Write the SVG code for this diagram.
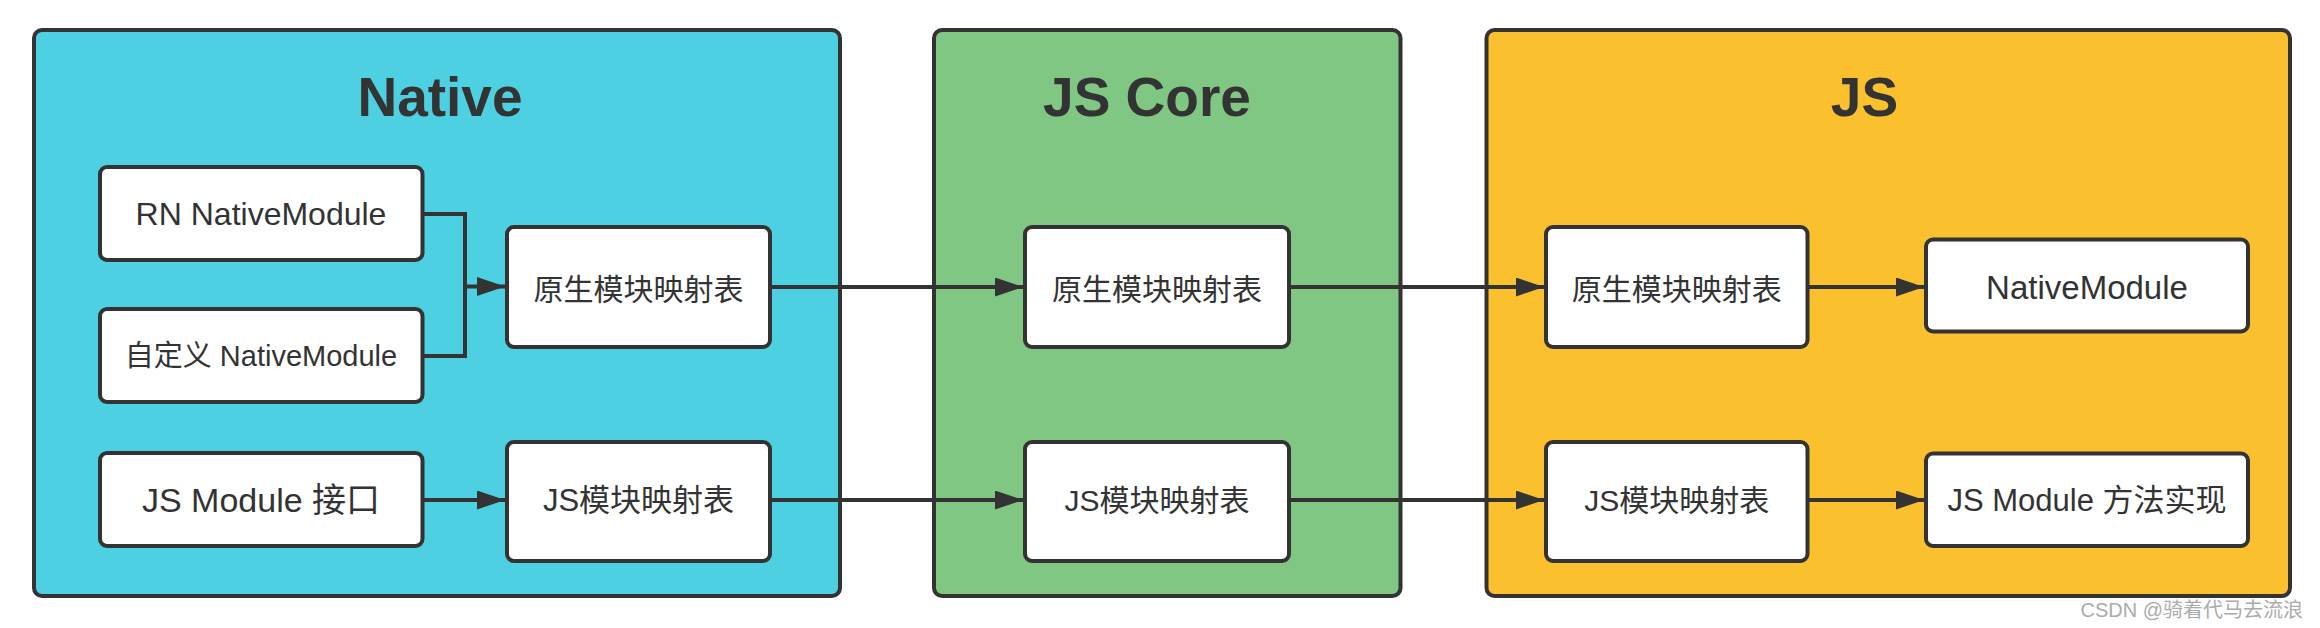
<svg xmlns="http://www.w3.org/2000/svg" width="2320" height="628" viewBox="0 0 2320 628">
  <style>
    .container { stroke: #333333; stroke-width: 4; }
    .node { fill: #ffffff; stroke: #333333; stroke-width: 4; }
    .title { font-family: "Liberation Sans", Arial, sans-serif; font-weight: bold; font-size: 55px; fill: #333333; text-anchor: middle; }
    .label { font-family: "Liberation Sans", "Noto Sans CJK SC", sans-serif; fill: #333333; text-anchor: middle; dominant-baseline: central; }
    .cjk { font-family: "Noto Sans CJK SC", "Liberation Sans", sans-serif; }
    .edge { fill: none; stroke: #333333; stroke-width: 4; }
    .wm { font-family: "Liberation Sans", "Noto Sans CJK SC", sans-serif; font-size: 20px; fill: #ababab; text-anchor: end; }
  </style>
  <defs>
    <marker id="arrow" markerUnits="userSpaceOnUse" markerWidth="28" markerHeight="20" refX="28" refY="9.5" orient="auto">
      <path d="M0,0 L28,9.5 L0,19 Z" fill="#333333"/>
    </marker>
  </defs>
  <rect width="2320" height="628" fill="#ffffff"/>

  <g id="native">
    <rect class="container" x="34" y="30" width="806" height="566" rx="8" fill="#4DD0E1"/>
    <text class="title" x="440" y="116">Native</text>
  </g>
  <g id="jscore">
    <rect class="container" x="934" y="30" width="466.5" height="566" rx="8" fill="#81C784"/>
    <text class="title" x="1147" y="116">JS Core</text>
  </g>
  <g id="js">
    <rect class="container" x="1486.5" y="30" width="803.5" height="566" rx="8" fill="#FBC02D"/>
    <text class="title" x="1864.5" y="116">JS</text>
  </g>

  <g id="connectors">
    <polyline class="edge" points="422.5,214 465,214 465,356 422.5,356"/>
    <line class="edge" x1="465" y1="286.5" x2="505" y2="286.5" marker-end="url(#arrow)"/>
    <line class="edge" x1="770" y1="287" x2="1023" y2="287" marker-end="url(#arrow)"/>
    <line class="edge" x1="1289" y1="287" x2="1544" y2="287" marker-end="url(#arrow)"/>
    <line class="edge" x1="1807.5" y1="287" x2="1924" y2="287" marker-end="url(#arrow)"/>
    <line class="edge" x1="422.5" y1="500" x2="505" y2="500" marker-end="url(#arrow)"/>
    <line class="edge" x1="770" y1="500" x2="1023" y2="500" marker-end="url(#arrow)"/>
    <line class="edge" x1="1289" y1="500" x2="1544" y2="500" marker-end="url(#arrow)"/>
    <line class="edge" x1="1807.5" y1="500" x2="1924" y2="500" marker-end="url(#arrow)"/>
  </g>

  <g id="rn-nativemodule">
    <rect class="node" x="100" y="167" width="322.5" height="93" rx="7"/>
    <text class="label" x="261" y="214" font-size="32">RN NativeModule</text>
  </g>
  <g id="custom-nativemodule">
    <rect class="node" x="100" y="309" width="322.5" height="93" rx="7"/>
    <text class="label" x="261" y="356" font-size="29">自定义 NativeModule</text>
  </g>
  <g id="js-module-interface">
    <rect class="node" x="100" y="453" width="322.5" height="93" rx="7"/>
    <text class="label" x="261" y="500" font-size="34">JS Module 接口</text>
  </g>
  <g id="native-native-map">
    <rect class="node" x="507" y="227" width="263" height="120" rx="7"/>
    <text class="label cjk" x="638.5" y="287" font-size="30">原生模块映射表</text>
  </g>
  <g id="native-js-map">
    <rect class="node" x="507" y="442" width="263" height="119" rx="7"/>
    <text class="label" x="638.5" y="500" font-size="31">JS模块映射表</text>
  </g>
  <g id="core-native-map">
    <rect class="node" x="1025" y="227" width="264" height="120" rx="7"/>
    <text class="label cjk" x="1157" y="287" font-size="30">原生模块映射表</text>
  </g>
  <g id="core-js-map">
    <rect class="node" x="1025" y="442" width="264" height="119" rx="7"/>
    <text class="label" x="1157" y="500" font-size="30">JS模块映射表</text>
  </g>
  <g id="js-native-map">
    <rect class="node" x="1546" y="227" width="261.5" height="120" rx="7"/>
    <text class="label cjk" x="1676.75" y="287" font-size="30">原生模块映射表</text>
  </g>
  <g id="js-js-map">
    <rect class="node" x="1546" y="442" width="261.5" height="119" rx="7"/>
    <text class="label" x="1676.75" y="500" font-size="30">JS模块映射表</text>
  </g>
  <g id="nativemodule">
    <rect class="node" x="1926" y="239.5" width="322" height="92" rx="7"/>
    <text class="label" x="2087" y="287" font-size="33">NativeModule</text>
  </g>
  <g id="js-module-impl">
    <rect class="node" x="1926" y="453.5" width="322" height="92.5" rx="7"/>
    <text class="label" x="2087" y="500" font-size="31">JS Module 方法实现</text>
  </g>

  <text class="wm" x="2303" y="617">CSDN @骑着代马去流浪</text>
</svg>
